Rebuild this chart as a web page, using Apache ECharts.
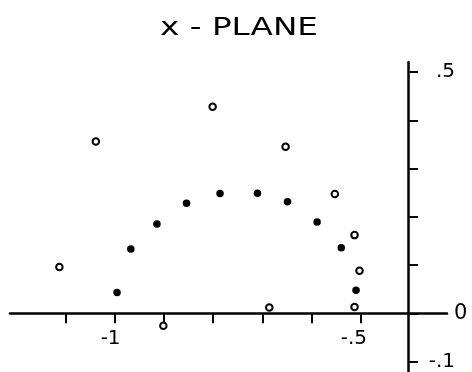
<!DOCTYPE html>
<html>
<head>
<meta charset="utf-8">
<script src="https://cdn.jsdelivr.net/npm/echarts@6/dist/echarts.min.js"></script>
<style>
html, body { margin: 0; padding: 0; background: #fff; }
#chart { width: 472px; height: 372px; }
</style>
</head>
<body>
<div id="chart"></div>
<script>
// ---- data ----
const titleText = 'x - PLANE';
const openPoints = [
  [-1.112, 0.096], [-1.038, 0.356], [-0.901, -0.026], [-0.801, 0.428],
  [-0.686, 0.012], [-0.653, 0.345], [-0.553, 0.247], [-0.513, 0.162],
  [-0.503, 0.088], [-0.513, 0.013]
];
const filledPoints = [
  [-0.995, 0.043], [-0.967, 0.133], [-0.914, 0.185], [-0.854, 0.228],
  [-0.786, 0.248], [-0.710, 0.249], [-0.649, 0.231], [-0.589, 0.189],
  [-0.540, 0.136], [-0.510, 0.048]
];
const xTickValues = [-1.1, -1.0, -0.9, -0.8, -0.7, -0.6, -0.5];
const xLabelValues = [-1.0, -0.5];
const yTickValues = [-0.1, 0, 0.1, 0.2, 0.3, 0.4, 0.5];
const yLabelValues = [-0.1, 0.5];
const originLabel = '0';

function fmt(v) {
  const s = String(Math.round(v * 10) / 10);
  return s.replace('0.', '.');
}

const FONT = 'DejaVu Sans';
const chart = echarts.init(document.getElementById('chart'), null, { renderer: 'canvas' });
chart.setOption({
  animation: false,
  backgroundColor: '#fff',
  graphic: [{
    type: 'text',
    x: 239, y: 28.5,
    scaleX: 1.36,
    style: {
      text: titleText,
      fill: '#000',
      font: '24px "' + FONT + '"',
      textAlign: 'center',
      textVerticalAlign: 'middle'
    }
  }],
  grid: { left: 10, right: 25, top: 62, bottom: 0, containLabel: false, outerBoundsMode: 'none' },
  xAxis: {
    type: 'value',
    min: -1.2122, max: -0.3254,
    position: 'bottom', offset: -58.7,
    splitLine: { show: false },
    axisLine: { onZero: false, lineStyle: { color: '#000', width: 2.5 } },
    axisTick: { customValues: xTickValues, length: 10, lineStyle: { color: '#000', width: 2 } },
    axisLabel: {
      customValues: xLabelValues, formatter: fmt,
      color: '#000', fontSize: 20, fontFamily: FONT,
      align: 'right', padding: [0, -6, 0, 0], margin: 15,
      showMinLabel: true, showMaxLabel: true, hideOverlap: false
    },
    name: originLabel, nameLocation: 'end', nameGap: 7,
    nameTextStyle: { color: '#000', fontSize: 21, fontFamily: FONT, verticalAlign: 'middle' }
  },
  yAxis: {
    type: 'value',
    min: -0.1216, max: 0.5207,
    position: 'left', offset: -398,
    splitLine: { show: false },
    axisLine: { onZero: false, lineStyle: { color: '#000', width: 2.5 } },
    axisTick: { inside: true, customValues: yTickValues, length: 10, lineStyle: { color: '#000', width: 2 } },
    axisLabel: {
      inside: true, customValues: yLabelValues, formatter: fmt,
      color: '#000', fontSize: 20, fontFamily: FONT,
      align: 'right', margin: 47,
      showMinLabel: true, showMaxLabel: true, hideOverlap: false
    }
  },
  series: [
    {
      type: 'scatter', name: 'open', data: openPoints,
      symbol: 'circle', symbolSize: 6.5,
      itemStyle: { color: '#fff', borderColor: '#000', borderWidth: 2, opacity: 1 }
    },
    {
      type: 'scatter', name: 'filled', data: filledPoints,
      symbol: 'circle', symbolSize: 7.5,
      itemStyle: { color: '#000', opacity: 1 }
    }
  ]
});
</script>
</body>
</html>
